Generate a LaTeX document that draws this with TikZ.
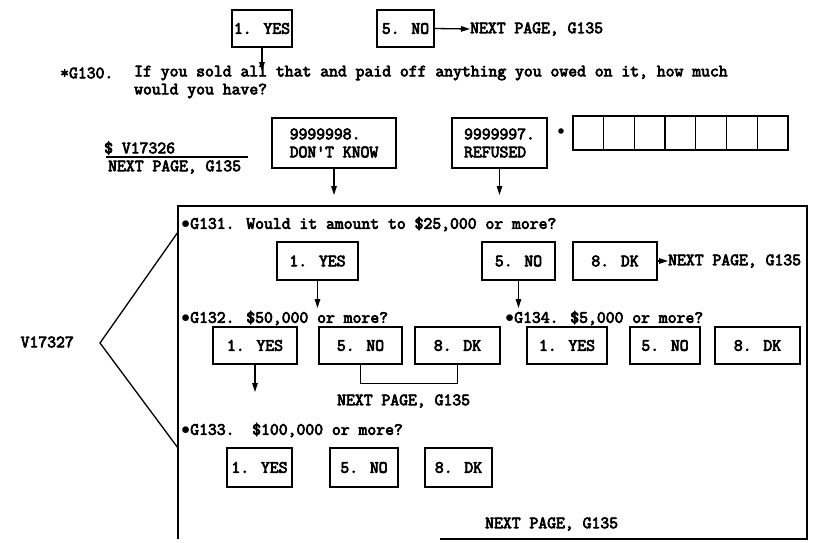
\documentclass[tikz,border=0pt]{standalone}
\usepackage{fontspec}
\newfontfamily\typefont{Latin Modern Mono}[FakeBold=4]
\usetikzlibrary{arrows.meta,calc}
\newcommand{\fnt}{\typefont\fontsize{17.2}{16}\selectfont}
\newcommand{\bul}{\makebox[0.525em]{$\bullet$}}
\begin{document}
\begin{tikzpicture}[x=1pt,y=-1pt,
  txt/.style={font=\fnt, inner sep=0pt, anchor=west},
  ans/.style={draw, line width=1.3pt, inner sep=0pt, font=\fnt},
  arr/.style={line width=1.3pt, -{Triangle[length=9pt,width=5.5pt]}},
  ln/.style={line width=1.3pt}]
\useasboundingbox (0,0) rectangle (814,542);

% top row
\node[ans, minimum width=60, minimum height=37] (topyes) at (262,28.5) {1. YES};
\node[ans, minimum width=57, minimum height=37] (topno) at (405.5,28.5) {5. NO};
\node[txt] (nextA) at (470,29) {NEXT PAGE, G135};
\draw[arr] (topno.east) -- (nextA.west);
\coordinate (c130) at (262,71);
\draw[arr] (topyes.south) -- (c130);

% G130
\node[txt] (q130lbl) at (60,73) {*G130.};
\node[txt] (q130) at (134,73) {If you sold all that and paid off anything you owed on it, how much};
\node[txt] (q130b) at (134,91) {would you have?};

\node[txt] (amt) at (104,148) {\$ V17326};
\node[txt] (amtnext) at (108,167) {NEXT PAGE, G135};
\draw[ln] (106,157) -- (248,157);

\node[ans, minimum width=124, minimum height=50, align=left] (dk) at (334,143) {9999998.\\[2pt]DON\textquotesingle T KNOW};
\node[ans, minimum width=95, minimum height=50, align=left] (ref) at (499.5,143) {9999997.\\[2pt]REFUSED};
\fill (561,131) circle (2.8);
\foreach \i in {0,...,6} {
  \draw[ln] ({573+\i*30.7},116) rectangle ({573+(\i+1)*30.7},150);
}
\coordinate (cdk) at (334,195);
\coordinate (cref) at (499.5,195);
\draw[arr] (dk.south) -- (cdk);
\draw[arr] (ref.south) -- (cref);

% main frame
\draw[ln] (178,539) -- (178,206) -- (807,206) -- (807,539) -- (440,539);

% bracket
\coordinate (bt) at (178,232);
\coordinate (apex) at (100,343);
\coordinate (bb) at (178,448);
\draw[ln] (bt) -- (apex) -- (bb);
\node[txt, anchor=east] (v27) at (74,342) {V17327};

% G131
\node[txt] (q131) at (181,224) {\bul G131. Would it amount to \$25,000 or more?};
\node[ans, minimum width=81, minimum height=38] (y131) at (317.5,261) {1. YES};
\node[ans, minimum width=73, minimum height=38] (n131) at (518.5,261) {5. NO};
\node[ans, minimum width=84, minimum height=38] (d131) at (615,261) {8. DK};
\node[txt] (nextB) at (668,261) {NEXT PAGE, G135};
\draw[arr] (d131.east) -- (nextB.west);
\coordinate (c131y) at (317.5,308);
\coordinate (c131n) at (518.5,308);
\draw[arr] (y131.south) -- (c131y);
\draw[arr] (n131.south) -- (c131n);

% G132
\node[txt] (q132) at (181,318) {\bul G132. \$50,000 or more?};
\node[ans, minimum width=84, minimum height=37] (y132) at (255,345.5) {1. YES};
\node[ans, minimum width=83, minimum height=37] (n132) at (360.5,345.5) {5. NO};
\node[ans, minimum width=85, minimum height=37] (d132) at (457.5,345.5) {8. DK};
\coordinate (c132y) at (255,392);
\draw[arr] (y132.south) -- (c132y);
\draw[ln] (n132.south) -- ++(0,19) -| (d132.south);
\node[txt] (nextC) at (337,401) {NEXT PAGE, G135};

% G134
\node[txt] (q134) at (505,318) {\bul G134. \$5,000 or more?};
\node[ans, minimum width=80, minimum height=37] (y134) at (567,345.5) {1. YES};
\node[ans, minimum width=70, minimum height=37] (n134) at (665,345.5) {5. NO};
\node[ans, minimum width=85, minimum height=37] (d134) at (757.5,345.5) {8. DK};

% G133
\node[txt] (q133) at (181,430) {\bul G133.\ \ \$100,000 or more?};
\node[ans, minimum width=65, minimum height=39] (y133) at (259.5,467.5) {1. YES};
\node[ans, minimum width=68, minimum height=39] (n133) at (364,467.5) {5. NO};
\node[ans, minimum width=67, minimum height=39] (d133) at (458.5,467.5) {8. DK};
\node[txt] (nextD) at (485,524) {NEXT PAGE, G135};
\end{tikzpicture}
\end{document}
